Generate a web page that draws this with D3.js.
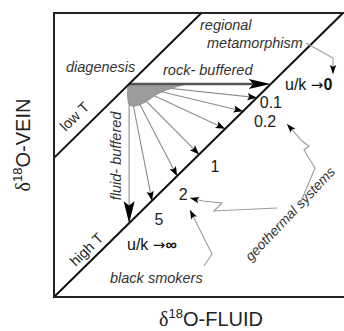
<!DOCTYPE html>
<html><head><meta charset="utf-8">
<script src="https://cdn.jsdelivr.net/npm/d3@7"></script>
<style>html,body{margin:0;padding:0;background:#fff;overflow:hidden}</style>
</head><body><svg id="c" width="344" height="331"></svg>
<script>
// ---------- data ----------
const axisMax = 10;
const highTOffset = 0;          // high-T equilibrium line: vein = fluid
const lowTOffset = 4.9;         // low-T equilibrium line: vein = fluid + 4.9
const startFluid = 2.6;         // initial rock (corner of the fan)
const startVein = 7.5;
const fanEnds = [7.02, 6.54, 5.92, 5.02, 4.26, 3.39];   // end points on high-T line
const fanLabels = ["0.1", "0.2", "", "1", "2", "5"];     // u/k values
const xTitle = "O-FLUID";
const yTitle = "O-VEIN";

// ---------- layout ----------
const svg = d3.select("#c");
const x = d3.scaleLinear().domain([0, axisMax]).range([54, 343]);
const y = d3.scaleLinear().domain([0, axisMax]).range([297, 13]);
const FONT = "'Liberation Sans', Arial, sans-serif";
const labelOffsets = [[14, 10], [22, 16], [0, 0], [16, 18], [6, 24], [7, 24]];

function arrowHead(g, tx, ty, fx, fy, L, W, fill) {
  const dx = tx - fx, dy = ty - fy, d = Math.hypot(dx, dy);
  const ux = dx / d, uy = dy / d, nx = -uy, ny = ux;
  const bx = tx - L * ux, by = ty - L * uy;
  g.append("path")
    .attr("d", `M${tx},${ty}L${bx + W * nx},${by + W * ny}L${tx - 0.8 * L * ux},${ty - 0.8 * L * uy}L${bx - W * nx},${by - W * ny}Z`)
    .attr("fill", fill || "#000");
}

const ox = x(startFluid), oy = y(startVein);

// fan lines
const fan = svg.append("g");
fanEnds.forEach(e => {
  fan.append("line").attr("x1", ox).attr("y1", oy).attr("x2", x(e)).attr("y2", y(e + highTOffset))
    .attr("stroke", "#8c8c8c").attr("stroke-width", 1.1);
});
// fluid-buffered (vertical)
fan.append("line").attr("x1", ox).attr("y1", oy).attr("x2", ox).attr("y2", y(startFluid + highTOffset))
  .attr("stroke", "#8c8c8c").attr("stroke-width", 1.1);

// shaded region
const bp = d3.path();
bp.moveTo(ox - 1, oy);
bp.lineTo(ox + 57, oy);
bp.bezierCurveTo(ox + 47, oy + 3, ox + 34, oy + 6, ox + 25, oy + 12);
bp.bezierCurveTo(ox + 17, oy + 18, ox + 9, oy + 23, ox + 2, oy + 22);
bp.bezierCurveTo(ox - 2, oy + 21, ox - 2, oy + 10, ox - 1, oy);
bp.closePath();
svg.append("path").attr("d", bp.toString())
  .attr("fill", "#9c9c9c").attr("stroke", "#888").attr("stroke-width", 0.8);

// rock-buffered (horizontal)
const rx = x(startVein - highTOffset);
svg.append("line").attr("x1", ox).attr("y1", oy).attr("x2", rx - 10).attr("y2", oy)
  .attr("stroke", "#555").attr("stroke-width", 2.6);

// arrowheads
fanEnds.forEach(e => arrowHead(svg, x(e), y(e + highTOffset), ox, oy, 9.5, 3.6));
arrowHead(svg, rx, oy, ox, oy, 22, 5);
arrowHead(svg, ox, y(startFluid + highTOffset), ox, oy, 22, 5.5);

// diagonal lines
svg.append("line").attr("x1", x(0)).attr("y1", y(highTOffset)).attr("x2", x(axisMax - highTOffset)).attr("y2", y(axisMax))
  .attr("stroke", "#111").attr("stroke-width", 2);
svg.append("line").attr("x1", x(0)).attr("y1", y(lowTOffset)).attr("x2", x(axisMax - lowTOffset)).attr("y2", y(axisMax))
  .attr("stroke", "#111").attr("stroke-width", 2);

// frame
svg.append("path").attr("d", `M350,${y(axisMax)}H${x(0)}V${y(0)}H350`)
  .attr("fill", "none").attr("stroke", "#222").attr("stroke-width", 2);

// fan labels
fanLabels.forEach((t, i) => {
  if (!t) return;
  svg.append("text").attr("x", x(fanEnds[i]) + labelOffsets[i][0]).attr("y", y(fanEnds[i]) + labelOffsets[i][1])
    .attr("text-anchor", "middle").attr("font-family", FONT).attr("font-size", 16).attr("fill", "#222").text(t);
});

// italic annotations
function itext(t, px, py, rot, anchor, fs) {
  return svg.append("text").attr("font-family", FONT).attr("font-size", fs || 14.5).attr("font-style", "italic")
    .attr("fill", "#333").attr("text-anchor", anchor || "start")
    .attr("transform", `translate(${px},${py}) rotate(${rot || 0})`).text(t);
}
itext("diagenesis", 66, 72);
itext("rock- buffered", 163, 75);
itext("regional", 200, 30);
itext("metamorphism", 207, 48);
itext("black smokers", 110, 283);
itext("fluid- buffered", 121, 156, -90, "middle");
itext("geothermal systems", 251, 262, -46.5, "start", 13.8);

function rtext(t, px, py, rot) {
  svg.append("text").attr("font-family", FONT).attr("font-size", 14.5).attr("fill", "#222")
    .attr("text-anchor", "middle").attr("transform", `translate(${px},${py}) rotate(${rot})`).text(t);
}
rtext("low T", 78, 120, -44.6);
rtext("high T", 90, 253, -44.6);

// u/k texts
const t0 = svg.append("text").attr("x", 285).attr("y", 90).attr("font-family", FONT).attr("font-size", 16).attr("fill", "#111");
t0.append("tspan").text("u/k ");
t0.append("tspan").attr("font-family", "'DejaVu Sans'").attr("font-size", 15).text("\u2192");
t0.append("tspan").attr("font-weight", "bold").text("0");
const t1 = svg.append("text").attr("x", 127).attr("y", 250).attr("font-family", FONT).attr("font-size", 16).attr("fill", "#111");
t1.append("tspan").text("u/k ");
t1.append("tspan").attr("font-family", "'DejaVu Sans'").attr("font-size", 15).text("\u2192");
t1.append("tspan").attr("font-weight", "bold").text("\u221E");

// callouts
const cl = d3.line();
function callout(pts, L, W) {
  svg.append("path").attr("d", cl(pts)).attr("fill", "none").attr("stroke", "#9a9a9a").attr("stroke-width", 1.1);
  const n = pts.length;
  arrowHead(svg, pts[n - 1][0], pts[n - 1][1], pts[n - 2][0], pts[n - 2][1], L || 9, W || 3.2);
}
callout([[306, 43], [333, 58], [333, 74]]);
callout([[300, 204], [315, 168], [304, 150], [309, 146], [302, 141], [287, 124]]);
callout([[277, 208], [214, 211], [222, 203], [203, 201], [190, 198]]);
callout([[204, 266], [212, 254], [190, 210]]);

// axis titles
const xt = svg.append("text").attr("x", 211).attr("y", 326).attr("text-anchor", "middle")
  .attr("font-family", FONT).attr("font-size", 20).attr("fill", "#222");
xt.append("tspan").attr("font-family", "'Liberation Serif', serif").text("\u03B4");
xt.append("tspan").attr("font-size", 13).attr("dy", -8).text("18");
xt.append("tspan").attr("dy", 8).text(xTitle);
const yt = svg.append("text").attr("transform", "translate(30,145) rotate(-90)").attr("text-anchor", "middle")
  .attr("font-family", FONT).attr("font-size", 20).attr("fill", "#222");
yt.append("tspan").attr("font-family", "'Liberation Serif', serif").text("\u03B4");
yt.append("tspan").attr("font-size", 13).attr("dy", -8).text("18");
yt.append("tspan").attr("dy", 8).text(yTitle);
</script>
</body></html>
